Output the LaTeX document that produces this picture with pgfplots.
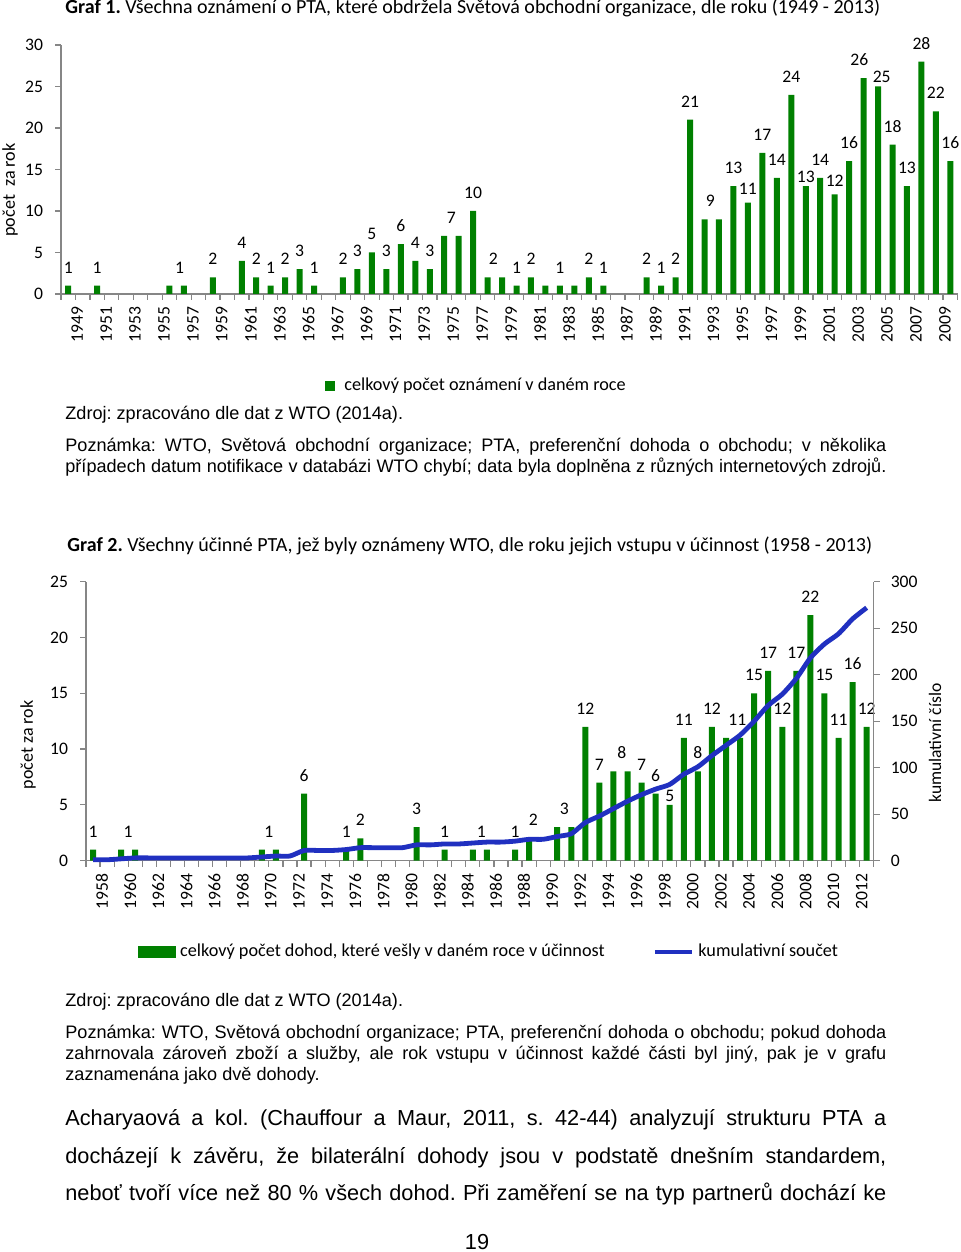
\documentclass[border=0pt]{standalone}
\usepackage{fontspec}
\setmainfont{Liberation Sans}
\newfontfamily\calib{Carlito}
\usepackage{pgfplots}
\pgfplotsset{compat=1.18}

\definecolor{barG}{RGB}{0,128,0}
\definecolor{lineB}{RGB}{32,48,192}
\definecolor{axG}{RGB}{134,134,134}

\newcommand\cf{\calib\fontsize{8.8pt}{10pt}\selectfont}
\newcommand\nf{\fontsize{9.05pt}{10.4pt}\selectfont}
\newcommand\bodyf{\fontsize{10.86pt}{18.75pt}\selectfont}
\frenchspacing

\pgfplotsset{
  pagebars/.style={
    scale only axis, clip=false,
    axis x line*=bottom, axis y line*=left,
    xtick pos=bottom, ytick pos=left,
    axis line style={draw=axG, line width=0.6pt, -},
    every outer x axis line/.append style={-},
    every outer y axis line/.append style={-},
    tick align=outside,
    major tick length=3pt, minor tick length=3pt,
    tick style={draw=axG, line width=0.6pt},
    major x tick style={draw=none},
    tick label style={font=\cf},
    /pgf/number format/assume math mode=true,
    x tick label style={rotate=90, anchor=east, yshift=-4.5pt, /pgf/number format/1000 sep={}},
    y tick label style={xshift=-2.5pt},
    ymin=0,
  },
  vals/.style={forget plot, draw=none, mark=none, nodes near coords,
    point meta=explicit symbolic,
    nodes near coords style={font=\cf, anchor=base, inner sep=0pt, yshift=6.25pt}},
}

\begin{document}
\begin{tikzpicture}
\path[use as bounding box] (0,0) rectangle (480pt,626pt);

% Graf 1
\begin{axis}[pagebars,
  at={(30.5pt,479pt)}, anchor=south west,
  width=448.3pt, height=124.5pt,
  xmin=1948.5, xmax=2010.5, ymax=30,
  ytick={0,5,...,30},
  xtick={1949,1951,...,2009},
  minor xtick={1948.5,1949.5,...,2010.5},
  ylabel={počet\ \ za rok},
  every axis y label/.style={at={(rel axis cs:-0.0569,0.4177)}, rotate=90, anchor=center,
    font=\calib\fontsize{9.05pt}{10pt}\selectfont},
  legend style={draw=none, fill=none, inner sep=0pt, at={(rel axis cs:0.2944,-0.3694)},
    anchor=west, font=\calib\fontsize{9.1pt}{10pt}\selectfont},
  legend cell align=left,
]
\addplot[ybar, bar width=3pt, bar shift=0pt, fill=barG, draw=none,
  legend image code/.code={\fill[barG] (0pt,-2.5pt) rectangle (5pt,2.5pt); \path (7.5pt,0pt);}]
coordinates {
(1949,1) (1951,1) (1956,1) (1957,1) (1959,2) (1961,4) (1962,2) (1963,1)
(1964,2) (1965,3) (1966,1) (1968,2) (1969,3) (1970,5) (1971,3) (1972,6)
(1973,4) (1974,3) (1975,7) (1976,7) (1977,10) (1978,2) (1979,2) (1980,1)
(1981,2) (1982,1) (1983,1) (1984,1) (1985,2) (1986,1) (1989,2) (1990,1)
(1991,2) (1992,21) (1993,9) (1994,9) (1995,13) (1996,11) (1997,17) (1998,14)
(1999,24) (2000,13) (2001,14) (2002,12) (2003,16) (2004,26) (2005,25) (2006,18)
(2007,13) (2008,28) (2009,22) (2010,16)
};
\addlegendentry{celkový počet oznámení v daném roce}
\addplot[vals] coordinates {
(1949,1)[1] (1951,1)[1] (1956.7,1)[1] (1959,2)[2] (1961,4)[4] (1962,2)[2]
(1963,1)[1] (1964,2)[2] (1965,3)[3] (1966,1)[1] (1968,2)[2] (1969,3)[3]
(1970,5)[5] (1971,3)[3] (1972,6)[6] (1973,4)[4] (1974,3)[3] (1975.5,7)[7]
(1977,10)[10] (1978.4,2)[2] (1980,1)[1] (1981,2)[2] (1983,1)[1] (1985,2)[2]
(1986,1)[1] (1989,2)[2] (1990,1)[1] (1991,2)[2] (1992,21)[21] (1993.4,9)[9]
(1995,13)[13] (1996,10.5)[11] (1997,17)[17] (1998,14)[14] (1999,24)[24]
(2000,11.95)[13] (2001,14)[14] (2002,11.5)[12] (2003,16)[16] (2003.7,26)[26]
(2005.25,24)[25] (2006,18)[18] (2007,13)[13] (2008,28)[28] (2009,22)[22]
(2010,16)[16]
};
\end{axis}

% Graf 2, bars
\begin{axis}[pagebars,
  at={(43pt,195.65pt)}, anchor=south west,
  width=393.85pt, height=139.5pt,
  xmin=1957.5, xmax=2013.5, ymax=25,
  ytick={0,5,...,25},
  xtick={1958,1960,...,2012},
  minor xtick={1957.5,1958.5,...,2013.5},
  ylabel={počet za rok},
  every axis y label/.style={at={(rel axis cs:-0.0736,0.4147)}, rotate=90, anchor=center,
    font=\calib\fontsize{9pt}{10pt}\selectfont},
]
\addplot[ybar, bar width=3pt, bar shift=0pt, fill=barG, draw=none]
coordinates {
(1958,1) (1960,1) (1961,1) (1970,1) (1971,1) (1973,6) (1976,1) (1977,2)
(1981,3) (1983,1) (1985,1) (1986,1) (1988,1) (1989,2) (1991,3) (1992,3)
(1993,12) (1994,7) (1995,8) (1996,8) (1997,7) (1998,6) (1999,5) (2000,11)
(2001,8) (2002,12) (2003,11) (2004,11) (2005,15) (2006,17) (2007,12) (2008,17)
(2009,22) (2010,15) (2011,11) (2012,16) (2013,12)
};
\addplot[vals] coordinates {
(1958,1)[1] (1960.5,1)[1] (1970.5,1)[1] (1973,6)[6] (1976,1)[1] (1977,2)[2]
(1981,3)[3] (1983,1)[1] (1985.6,1)[1] (1988,1)[1] (1989.3,2)[2] (1991.5,3)[3]
(1993,12)[12] (1994,7)[7] (1995.6,8)[8] (1997,7)[7] (1998,6)[6] (1999,4.2)[5]
(2000,11)[11] (2001,8)[8] (2002,12)[12] (2003.8,11)[11] (2005,15)[15]
(2006,17)[17] (2007,12)[12] (2008,17)[17] (2009,22)[22] (2010,15)[15]
(2011,11)[11] (2012,16)[16] (2013,12)[12]
};
\end{axis}

% Graf 2, cumulative line
\begin{axis}[
  scale only axis, clip=false,
  at={(43pt,195.65pt)}, anchor=south west,
  width=393.85pt, height=139.5pt,
  xmin=1957.5, xmax=2013.5, ymin=0, ymax=300,
  axis x line=none, axis y line*=right,
  ytick pos=right, yticklabel pos=right,
  axis line style={draw=axG, line width=0.6pt, -},
  every outer y axis line/.append style={-},
  tick align=outside, major tick length=3pt,
  tick style={draw=axG, line width=0.6pt},
  ytick={0,50,...,300},
  tick label style={font=\cf},
  y tick label style={xshift=2pt},
  /pgf/number format/assume math mode=true,
  ylabel={kumulativní číslo},
  every axis y label/.style={at={(rel axis cs:1.0778,0.4219)}, rotate=90, anchor=center,
    font=\calib\fontsize{8.8pt}{10pt}\selectfont},
  legend style={draw=none, fill=none, inner sep=0pt, at={(rel axis cs:0.066,-0.327)},
    anchor=west, font=\calib\fontsize{9.1pt}{10pt}\selectfont,
    /tikz/every even column/.append style={column sep=22pt}},
  legend columns=2, legend cell align=left,
]
\addlegendimage{legend image code/.code={\fill[barG] (0pt,-2.75pt) rectangle (18.5pt,2.75pt);}}
\addlegendentry{celkový počet dohod, které vešly v daném roce v účinnost}
\addplot[lineB, line width=2.4pt, smooth, tension=0.4, mark=none,
  legend image code/.code={\draw[lineB, line width=2.4pt] (0pt,0pt) -- (18.5pt,0pt);}]
coordinates {
(1958,1) (1959,1) (1960,2) (1961,3) (1962,3) (1963,3) (1964,3) (1965,3)
(1966,3) (1967,3) (1968,3) (1969,3) (1970,4) (1971,5) (1972,5) (1973,11)
(1974,11) (1975,11) (1976,12) (1977,14) (1978,14) (1979,14) (1980,14) (1981,17)
(1982,17) (1983,18) (1984,18) (1985,19) (1986,20) (1987,20) (1988,21) (1989,23)
(1990,23) (1991,26) (1992,29) (1993,41) (1994,48) (1995,56) (1996,64) (1997,71)
(1998,77) (1999,82) (2000,93) (2001,101) (2002,113) (2003,124) (2004,135) (2005,150)
(2006,167) (2007,179) (2008,196) (2009,218) (2010,233) (2011,244) (2012,260) (2013,272)
};
\addlegendentry{kumulativní součet}
\end{axis}

% page text, in pixel units from the top left corner
\begin{scope}[x=0.5pt, y=-0.5pt, shift={(0pt,626pt)}]
\node[anchor=base west, inner sep=0pt, font=\calib\fontsize{10pt}{11pt}\selectfont] at (65,14)
  {\textbf{Graf 1.} Všechna oznámení o PTA, které obdržela Světová obchodní organizace, dle roku (1949 - 2013)};
\node[anchor=base west, inner sep=0pt, font=\nf] at (65,419.5)
  {Zdroj: zpracováno dle dat z WTO (2014a).};
\node[anchor=base west, inner sep=0pt, font=\nf] at (65,451.5)
  {\makebox[410.5pt][s]{Poznámka: WTO, Světová obchodní organizace; PTA, preferenční dohoda o obchodu; v~několika}};
\node[anchor=base west, inner sep=0pt, font=\nf] at (65,472.5)
  {\makebox[410.5pt][s]{případech datum notifikace v~databázi WTO chybí; data byla doplněna z~různých internetových zdrojů.}};

\node[anchor=base west, inner sep=0pt, font=\calib\fontsize{10pt}{11pt}\selectfont] at (67,552)
  {\textbf{Graf 2.} Všechny účinné PTA, jež byly oznámeny WTO, dle roku jejich vstupu v účinnost (1958 - 2013)};

\node[anchor=base west, inner sep=0pt, font=\nf] at (65,1006.5)
  {Zdroj: zpracováno dle dat z WTO (2014a).};
\node[anchor=base west, inner sep=0pt, font=\nf] at (65,1038.5)
  {\makebox[410.5pt][s]{Poznámka: WTO, Světová obchodní organizace; PTA, preferenční dohoda o obchodu; pokud dohoda}};
\node[anchor=base west, inner sep=0pt, font=\nf] at (65,1059.5)
  {\makebox[410.5pt][s]{zahrnovala zároveň zboží a služby, ale rok vstupu v~účinnost každé části byl jiný, pak je v~grafu}};
\node[anchor=base west, inner sep=0pt, font=\nf] at (65,1080.5)
  {zaznamenána jako dvě dohody.};

\node[anchor=base west, inner sep=0pt, font=\bodyf] at (65,1126)
  {\makebox[410.5pt][s]{Acharyaová a kol. (Chauffour a Maur, 2011, s. 42-44) analyzují strukturu PTA a}};
\node[anchor=base west, inner sep=0pt, font=\bodyf] at (65,1164)
  {\makebox[410.5pt][s]{docházejí k~závěru, že bilaterální dohody jsou v~podstatě dnešním standardem,}};
\node[anchor=base west, inner sep=0pt, font=\bodyf] at (65,1201)
  {\makebox[410.5pt][s]{neboť tvoří více než 80 \% všech dohod. Při zaměření se na typ partnerů dochází ke}};
\node[anchor=base, inner sep=0pt, font=\bodyf] at (477,1249) {19};
\end{scope}
\end{tikzpicture}
\end{document}
